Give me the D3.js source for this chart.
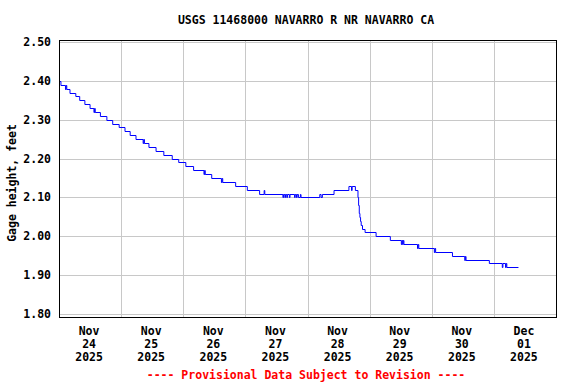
<!DOCTYPE html>
<html>
<head>
<meta charset="utf-8">
<script src="https://cdn.jsdelivr.net/npm/d3@7"></script>
<style>
  body { margin: 0; background: #fff; }
  text { font-family: "DejaVu Sans Mono", monospace; font-weight: bold; font-size: 11.5px; }
</style>
</head>
<body>
<svg id="chart" width="576" height="384"></svg>
<script>
// gage readings, change points only: hours after Nov 24 00:00 and value (ft)
const stepHours = [
  0, 0.75, 2.5, 2.75, 3, 4.25, 6.5, 8, 10, 12, 13.5, 13.75, 14, 16, 18.5, 20.75, 23.25,
  25.5, 27.5, 29.75, 32.5, 32.75, 33, 34.75, 37.5, 40.5, 43.75, 46.25, 49, 52, 56, 56.25, 56.5,
  59, 62.75, 63, 63.25, 68.25, 72.75, 77.5, 79.25, 79.5,
  86.5, 86.75, 87.25, 87.5, 88, 88.25, 89, 89.25, 91, 91.25, 91.75, 92, 92.5, 93.25, 93.5,
  100.75, 101.25, 101.75, 106.25, 112, 113, 113.25, 114.5,
  115.5, 115.75, 116, 116.25, 116.5, 116.75, 117.25, 118.25,
  122.5, 128, 132.25, 132.5, 132.75, 133, 133.25, 138.5, 138.75, 139,
  145, 145.25, 145.5, 152, 156.75, 157, 157.25,
  166.25, 171.25, 171.5, 172.5, 172.75, 173, 177.5
];
const stepValues = [
  2.40, 2.39, 2.38, 2.39, 2.38, 2.37, 2.36, 2.35, 2.34, 2.33, 2.32, 2.33, 2.32, 2.31, 2.30, 2.29, 2.28,
  2.27, 2.26, 2.25, 2.24, 2.25, 2.24, 2.23, 2.22, 2.21, 2.20, 2.19, 2.18, 2.17, 2.16, 2.17, 2.16,
  2.15, 2.14, 2.15, 2.14, 2.13, 2.12, 2.11, 2.12, 2.11,
  2.10, 2.11, 2.10, 2.11, 2.10, 2.11, 2.10, 2.11, 2.10, 2.11, 2.10, 2.11, 2.10, 2.11, 2.10,
  2.11, 2.10, 2.11, 2.12, 2.13, 2.12, 2.13, 2.12,
  2.10, 2.08, 2.06, 2.05, 2.04, 2.03, 2.02, 2.01,
  2.00, 1.99, 1.98, 1.99, 1.98, 1.99, 1.98, 1.97, 1.98, 1.97,
  1.96, 1.97, 1.96, 1.95, 1.94, 1.95, 1.94,
  1.93, 1.92, 1.93, 1.92, 1.93, 1.92, 1.92
];
const yTicks = [1.80, 1.90, 2.00, 2.10, 2.20, 2.30, 2.40, 2.50];
const dayTicks = ["2025-11-24", "2025-11-25", "2025-11-26", "2025-11-27",
                  "2025-11-28", "2025-11-29", "2025-11-30", "2025-12-01"];

const title = "USGS 11468000 NAVARRO R NR NAVARRO CA";
const yLabel = "Gage height, feet";
const note = "---- Provisional Data Subject to Revision ----";

const parseDay = d3.timeParse("%Y-%m-%d");
const start = parseDay("2025-11-24");
const end = parseDay("2025-12-02");

const data = stepHours.map((h, i) => ({
  t: d3.timeMinute.offset(start, h * 60),
  v: stepValues[i]
}));

const plotL = 59, plotR = 556, plotT = 40, plotB = 317;

const x = d3.scaleTime().domain([start, end]).range([plotL, plotR]);
const y = d3.scaleLinear().domain([1.80, 2.50]).range([314, 42]);

const svg = d3.select('#chart');

// grid
svg.append('g')
  .selectAll('line')
  .data(yTicks)
  .join('line')
  .attr('x1', plotL).attr('x2', plotR)
  .attr('y1', d => Math.round(y(d)) + 0.5)
  .attr('y2', d => Math.round(y(d)) + 0.5)
  .attr('stroke', '#c8c8c8')
  .attr('stroke-width', 1);

svg.append('g')
  .selectAll('line')
  .data(dayTicks.slice(1))
  .join('line')
  .attr('x1', d => Math.round(x(parseDay(d))) + 0.5)
  .attr('x2', d => Math.round(x(parseDay(d))) + 0.5)
  .attr('y1', plotT).attr('y2', plotB)
  .attr('stroke', '#c8c8c8')
  .attr('stroke-width', 1);

// data line
const line = d3.line()
  .x(d => x(d.t))
  .y(d => Math.round(y(d.v)) + 0.5)
  .curve(d3.curveStepAfter);

svg.append('path')
  .datum(data)
  .attr('d', line)
  .attr('fill', 'none')
  .attr('stroke', '#0000ff')
  .attr('stroke-width', 1);

// frame
svg.append('rect')
  .attr('x', plotL + 0.5).attr('y', plotT + 0.5)
  .attr('width', plotR - plotL).attr('height', plotB - plotT)
  .attr('fill', 'none')
  .attr('stroke', '#000')
  .attr('stroke-width', 1);

// y axis labels
svg.append('g')
  .selectAll('text')
  .data(yTicks)
  .join('text')
  .attr('x', 51)
  .attr('y', d => y(d) + 4)
  .attr('text-anchor', 'end')
  .text(d => d3.format('.2f')(d));

// x axis labels, centred on each day
const fmtMon = d3.timeFormat('%b'), fmtDay = d3.timeFormat('%d'), fmtYear = d3.timeFormat('%Y');
const xl = svg.append('g')
  .selectAll('text')
  .data(dayTicks)
  .join('text')
  .attr('text-anchor', 'middle')
  .attr('transform', d => {
    const t0 = parseDay(d);
    const cx = (x(t0) + x(d3.timeDay.offset(t0, 1))) / 2;
    return `translate(${cx - 1},0)`;
  });
xl.append('tspan').attr('x', 0).attr('y', 335).text(d => fmtMon(parseDay(d)));
xl.append('tspan').attr('x', 0).attr('y', 348).text(d => fmtDay(parseDay(d)));
xl.append('tspan').attr('x', 0).attr('y', 361).text(d => fmtYear(parseDay(d)));

// titles
svg.append('text')
  .attr('x', 306).attr('y', 24)
  .attr('text-anchor', 'middle')
  .text(title);

svg.append('text')
  .attr('transform', 'translate(16,183) rotate(-90)')
  .attr('text-anchor', 'middle')
  .text(yLabel);

svg.append('text')
  .attr('x', 306).attr('y', 379)
  .attr('text-anchor', 'middle')
  .attr('fill', '#ff0000')
  .text(note);
</script>
</body>
</html>
